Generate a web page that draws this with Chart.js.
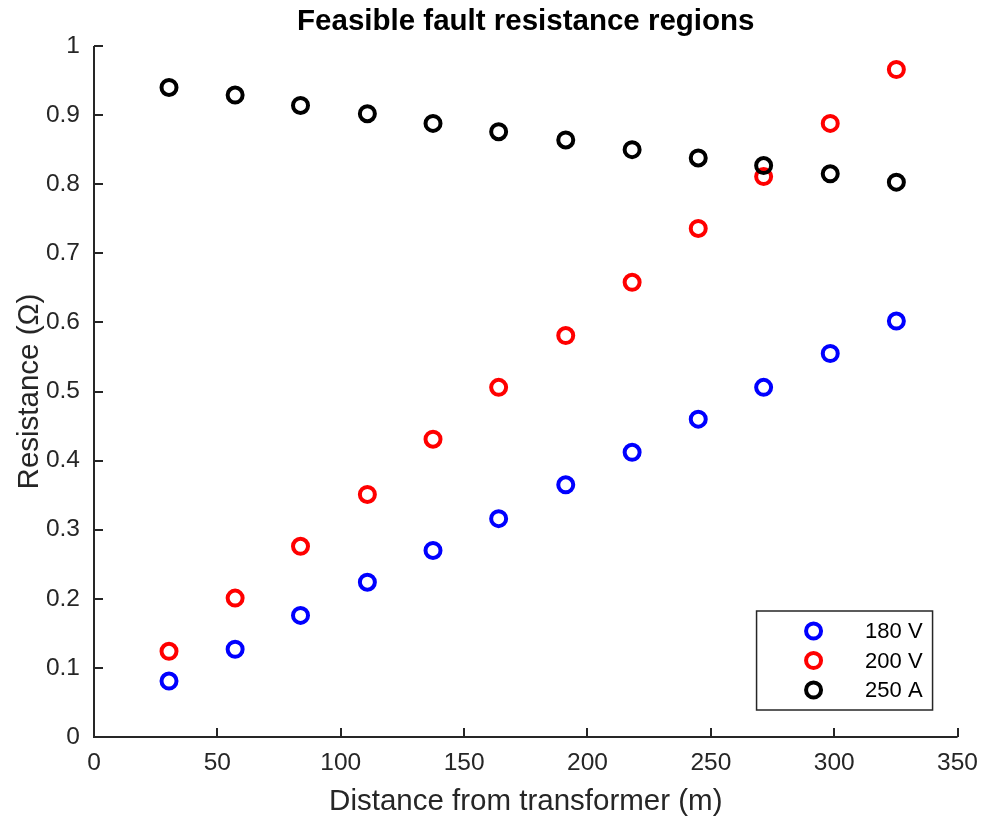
<!DOCTYPE html>
<html>
<head>
<meta charset="utf-8">
<script src="https://cdn.jsdelivr.net/npm/chart.js@4.4.0/dist/chart.umd.min.js"></script>
<style>
  body { margin: 0; background: #fff; }
  #caixa { width: 982px; height: 820px; }
</style>
</head>
<body>
<div id="caixa"><canvas id="grafico"></canvas></div>
<script>
// distancias (m)
const distancias = [30.4, 57.2, 83.7, 110.8, 137.4, 164.0, 191.2, 218.1, 244.9, 271.4, 298.4, 325.2];
const r180V = [0.081, 0.127, 0.176, 0.224, 0.270, 0.316, 0.365, 0.412, 0.460, 0.506, 0.555, 0.602];
const r200V = [0.124, 0.201, 0.276, 0.351, 0.431, 0.506, 0.581, 0.658, 0.736, 0.811, 0.888, 0.966];
const r250A = [0.940, 0.929, 0.914, 0.902, 0.888, 0.876, 0.864, 0.850, 0.838, 0.827, 0.815, 0.803];

const legendas = ['180 V', '200 V', '250 A'];
const cores = ['#0000ff', '#ff0000', '#000000'];

const ticksX = [0, 50, 100, 150, 200, 250, 300, 350];
const ticksY = [0, 0.1, 0.2, 0.3, 0.4, 0.5, 0.6, 0.7, 0.8, 0.9, 1];
const rotulosY = ['0', '0.1', '0.2', '0.3', '0.4', '0.5', '0.6', '0.7', '0.8', '0.9', '1'];

const titulo = 'Feasible fault resistance regions';
const corEixo = '#262626';
const fonte = '"Liberation Sans", Arial, Helvetica, sans-serif';

const series = [r180V, r200V, r250A];

const datasets = series.map((valores, i) => ({
  label: legendas[i],
  data: valores.map((v, k) => ({ x: distancias[k], y: v })),
  borderColor: cores[i],
  backgroundColor: 'rgba(0,0,0,0)',
  pointStyle: 'circle',
  pointRadius: 7.5,
  pointBorderWidth: 4,
  showLine: false,
  order: series.length - i // preto desenhado por cima
}));

// titulo, ticks para dentro, eixos e legenda no estilo MATLAB
const extras = {
  id: 'extras',
  afterDraw(chart) {
    const { ctx, chartArea: a, scales: { x, y } } = chart;
    ctx.save();

    // eixos
    ctx.strokeStyle = corEixo;
    ctx.lineWidth = 2;
    ctx.beginPath();
    ctx.moveTo(a.left, a.top);
    ctx.lineTo(a.left, a.bottom);
    ctx.lineTo(a.right, a.bottom);
    ctx.stroke();

    // ticks
    ctx.beginPath();
    ticksX.forEach(v => {
      const px = Math.round(x.getPixelForValue(v));
      ctx.moveTo(px, a.bottom);
      ctx.lineTo(px, a.bottom - 9);
    });
    ticksY.forEach(v => {
      const py = Math.round(y.getPixelForValue(v));
      ctx.moveTo(a.left, py);
      ctx.lineTo(a.left + 9, py);
    });
    ctx.stroke();

    // titulo
    ctx.fillStyle = '#000';
    ctx.font = 'bold 29.5px ' + fonte;
    ctx.textAlign = 'center';
    ctx.textBaseline = 'middle';
    ctx.fillText(titulo, (a.left + a.right) / 2, 22);

    // legenda
    const lx = a.right - 201, ly = a.bottom - 126, lw = 176, lh = 99;
    ctx.fillStyle = '#fff';
    ctx.fillRect(lx, ly, lw, lh);
    ctx.strokeStyle = corEixo;
    ctx.lineWidth = 1.5;
    ctx.strokeRect(lx, ly, lw, lh);
    ctx.font = '22px ' + fonte;
    ctx.textAlign = 'right';
    legendas.forEach((txt, i) => {
      const cy = ly + 20 + i * 29.5;
      ctx.beginPath();
      ctx.arc(lx + 57, cy, 7.5, 0, Math.PI * 2);
      ctx.strokeStyle = cores[i];
      ctx.lineWidth = 4;
      ctx.stroke();
      ctx.fillStyle = '#000';
      ctx.fillText(txt, lx + lw - 10, cy + 1);
    });

    ctx.restore();
  }
};

new Chart(document.getElementById('grafico'), {
  type: 'scatter',
  data: { datasets },
  plugins: [extras],
  options: {
    responsive: true,
    maintainAspectRatio: false,
    animation: false,
    layout: { padding: { top: 46, right: 19, left: 0, bottom: 0 } },
    plugins: {
      legend: { display: false },
      tooltip: { enabled: false },
      title: { display: false }
    },
    scales: {
      x: {
        type: 'linear',
        min: 0,
        max: 350,
        afterBuildTicks: s => { s.ticks = ticksX.map(v => ({ value: v })); },
        afterFit: s => { s.height = 83; },
        grid: { display: false },
        border: { display: false },
        ticks: {
          color: corEixo,
          font: { family: fonte, size: 24.5 },
          padding: 4,
          maxRotation: 0
        },
        title: {
          display: true,
          text: 'Distance from transformer (m)',
          color: corEixo,
          font: { family: fonte, size: 29.5 },
          padding: { top: 2, bottom: 0 }
        }
      },
      y: {
        type: 'linear',
        min: 0,
        max: 1,
        afterBuildTicks: s => { s.ticks = ticksY.map(v => ({ value: v })); },
        afterFit: s => { s.width = 94; },
        grid: { display: false },
        border: { display: false },
        ticks: {
          color: corEixo,
          font: { family: fonte, size: 24.5 },
          padding: 6,
          callback: (v, i) => rotulosY[i]
        },
        title: {
          display: true,
          text: 'Resistance (Ω)',
          color: corEixo,
          font: { family: fonte, size: 29.5 },
          padding: { top: 12, bottom: 0 }
        }
      }
    }
  }
});
</script>
</body>
</html>
